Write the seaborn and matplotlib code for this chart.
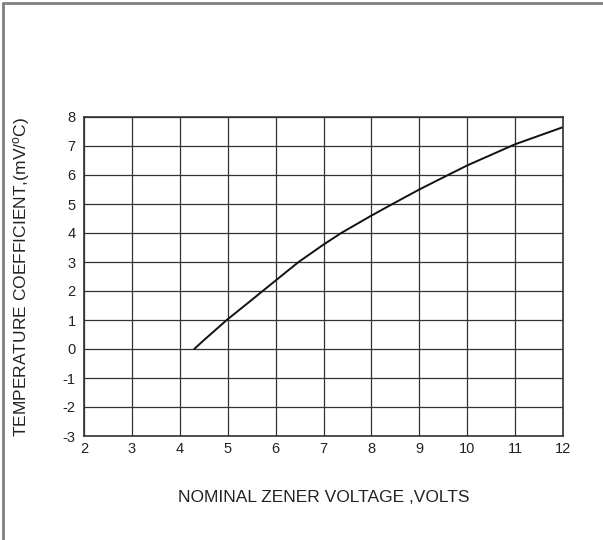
import matplotlib
matplotlib.use("Agg")
import matplotlib.pyplot as plt
import seaborn as sns
import pandas as pd
from matplotlib.lines import Line2D

voltage = [4.3, 4.5, 4.98, 5.5, 5.73, 6.0, 6.48, 7.0, 7.37, 8.0, 8.44, 9.0, 9.6, 10.0, 11.0, 12.0]
temp_coeff = [0.0, 0.3, 1.0, 1.69, 2.0, 2.36, 3.0, 3.6, 4.0, 4.6, 5.0, 5.5, 6.0, 6.33, 7.06, 7.65]
x_ticks = [2, 3, 4, 5, 6, 7, 8, 9, 10, 11, 12]
y_ticks = [-3, -2, -1, 0, 1, 2, 3, 4, 5, 6, 7, 8]

sns.set_theme(style="white")
plt.rcParams['font.family'] = ['Liberation Sans', 'DejaVu Sans']
plt.rcParams['mathtext.default'] = 'regular'

df = pd.DataFrame({"v": voltage, "tc": temp_coeff})

fig = plt.figure(figsize=(6.03, 5.40), dpi=100)
ax = fig.add_axes([84 / 603, 104 / 540, 479 / 603, 319 / 540])

sns.lineplot(data=df, x="v", y="tc", ax=ax, color="#111111", linewidth=1.4,
             estimator=None, sort=True)

ax.set_xlim(2, 12)
ax.set_ylim(-3, 8)
ax.set_xticks(x_ticks)
ax.set_yticks(y_ticks)
ax.set_xticklabels([str(t) for t in x_ticks], fontsize=10.5)
ax.set_yticklabels([str(t) for t in y_ticks], fontsize=10.5)
ax.tick_params(axis="x", length=0, pad=4, colors="#222222")
ax.tick_params(axis="y", length=0, pad=6, colors="#222222")
ax.grid(True, color="#333333", linewidth=0.9)
for s in ax.spines.values():
    s.set_color("#333333")
    s.set_linewidth(1.2)

ax.set_xlabel("NOMINAL ZENER VOLTAGE ,VOLTS", fontsize=12.5, color="#222222", labelpad=25)
ax.set_ylabel("TEMPERATURE COEFFICIENT,(mV/$^{o}$C)", fontsize=12.5, color="#222222", labelpad=22)

# figure frame (top and left edges)
fig.add_artist(Line2D([3.5 / 603, 3.5 / 603], [0, 1 - 3 / 540], transform=fig.transFigure,
                      color="#808080", linewidth=2))
fig.add_artist(Line2D([3.5 / 603, 1], [1 - 3 / 540, 1 - 3 / 540], transform=fig.transFigure,
                      color="#808080", linewidth=2))

fig.savefig("out.png", dpi=100)
